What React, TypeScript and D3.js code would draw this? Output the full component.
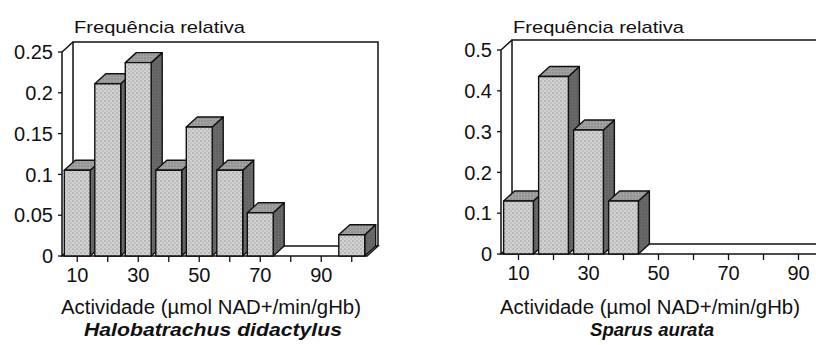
import * as d3 from "d3";

// bin centres (µmol NAD+/min/gHb)
const bins = [10, 20, 30, 40, 50, 60, 70, 80, 90, 100];
const xTickLabels = [10, 30, 50, 70, 90];

// relative frequencies
const halobatrachusFreq = [0.105, 0.211, 0.237, 0.105, 0.158, 0.105, 0.053, 0, 0, 0.026];
const sparusFreq = [0.13, 0.435, 0.304, 0.13, 0, 0, 0, 0, 0, 0];

const halobatrachusTicks = [0, 0.05, 0.1, 0.15, 0.2, 0.25];
const sparusTicks = [0, 0.1, 0.2, 0.3, 0.4, 0.5];

const FONT = "'Liberation Sans', Arial, sans-serif";
const DX = 11;
const DY = 10;

type HistProps = {
  values: number[];
  yTicks: number[];
  yMax: number;
  left: number;
  right: number;
  top: number;
  base: number;
  species: string;
  speciesWidth: number;
};

function Histogram({ values, yTicks, yMax, left, right, top, base, species, speciesWidth }: HistProps) {
  const x = d3
    .scaleBand<number>()
    .domain(bins)
    .range([left, right])
    .paddingInner(0.15)
    .paddingOuter(0.075);
  const y = d3.scaleLinear().domain([0, yMax]).range([base, top]);
  const bw = x.bandwidth();
  // tick positions sit on band centres
  const band = (right - left) / bins.length;
  const tickX = (i: number) => left + band * (i + 0.5);

  const pts = (p: number[][]) => p.map((d) => d.join(",")).join(" ");

  return (
    <g>
      {/* floor */}
      <polygon
        points={pts([
          [left, base],
          [right, base],
          [right + DX, base - DY],
          [left + DX, base - DY],
        ])}
        fill="#fff"
        stroke="#111"
        strokeWidth={1.5}
      />
      {/* back wall */}
      <polyline
        points={pts([
          [left + DX, base - DY],
          [left + DX, y(yMax) - DY],
          [right + DX, y(yMax) - DY],
          [right + DX, base - DY],
        ])}
        fill="none"
        stroke="#111"
        strokeWidth={1.5}
      />
      {/* left wall edge / y axis */}
      <polyline
        points={pts([
          [left, base],
          [left, y(yMax)],
          [left + DX, y(yMax) - DY],
        ])}
        fill="none"
        stroke="#111"
        strokeWidth={1.5}
      />

      {/* bars */}
      {values.map((v, i) => {
        if (v <= 0) return null;
        const x0 = x(bins[i]) ?? 0;
        const x1 = x0 + bw;
        const yv = y(v);
        return (
          <g key={i} stroke="#111" strokeWidth={1.4} strokeLinejoin="round">
            <polygon
              points={pts([
                [x1, base],
                [x1, yv],
                [x1 + DX, yv - DY],
                [x1 + DX, base - DY],
              ])}
              fill="url(#sidePat)"
            />
            <polygon
              points={pts([
                [x0, yv],
                [x1, yv],
                [x1 + DX, yv - DY],
                [x0 + DX, yv - DY],
              ])}
              fill="url(#topPat)"
            />
            <rect x={x0} y={yv} width={bw} height={base - yv} fill="url(#frontPat)" />
          </g>
        );
      })}

      {/* y ticks */}
      {yTicks.map((t) => (
        <g key={t}>
          <line x1={left - 4} x2={left} y1={y(t)} y2={y(t)} stroke="#111" strokeWidth={1.3} />
          <text
            x={left - 9}
            y={y(t)}
            dy="0.36em"
            textAnchor="end"
            fontSize={20}
            fontFamily={FONT}
            fill="#111"
          >
            {String(t)}
          </text>
        </g>
      ))}

      {/* x ticks */}
      {bins.map((b, i) => (
        <line
          key={b}
          x1={tickX(i)}
          x2={tickX(i)}
          y1={base}
          y2={base + 6}
          stroke="#111"
          strokeWidth={1.3}
        />
      ))}
      {xTickLabels.map((l) => (
        <text
          key={l}
          x={tickX(bins.indexOf(l))}
          y={base + 26}
          textAnchor="middle"
          fontSize={20}
          fontFamily={FONT}
          fill="#111"
        >
          {l}
        </text>
      ))}

      <text
        x={left + 12}
        y={33}
        fontSize={17}
        fontFamily={FONT}
        fill="#111"
        textLength={171}
        lengthAdjust="spacingAndGlyphs"
      >
        Frequência relativa
      </text>
      <text
        x={left + 149}
        y={314}
        textAnchor="middle"
        fontSize={20}
        fontFamily={FONT}
        fill="#111"
        textLength={300}
        lengthAdjust="spacingAndGlyphs"
      >
        Actividade (µmol NAD+/min/gHb)
      </text>
      <text
        x={left + 151}
        y={336}
        textAnchor="middle"
        fontSize={19}
        fontWeight="bold"
        fontStyle="italic"
        fontFamily={FONT}
        fill="#111"
        textLength={speciesWidth}
        lengthAdjust="spacingAndGlyphs"
      >
        {species}
      </text>
    </g>
  );
}

export default function App() {
  return (
    <div style={{ position: "absolute", left: 0, top: 0 }}>
      <svg width={816} height={345} style={{ display: "block", background: "#fff" }}>
        <defs>
          <pattern id="frontPat" width={4} height={4} patternUnits="userSpaceOnUse">
            <rect width={4} height={4} fill="#d2d2d2" />
            <circle cx={1} cy={1} r={0.8} fill="#949494" />
            <circle cx={3} cy={3} r={0.8} fill="#acacac" />
          </pattern>
          <pattern id="topPat" width={3} height={3} patternUnits="userSpaceOnUse">
            <rect width={3} height={3} fill="#a2a2a2" />
            <circle cx={1} cy={1} r={0.7} fill="#767676" />
          </pattern>
          <pattern id="sidePat" width={3} height={3} patternUnits="userSpaceOnUse">
            <rect width={3} height={3} fill="#6a6a6a" />
            <circle cx={1} cy={1} r={0.7} fill="#505050" />
          </pattern>
        </defs>
        <Histogram
          values={halobatrachusFreq}
          yTicks={halobatrachusTicks}
          yMax={0.25}
          left={62}
          right={367}
          top={52}
          base={256}
          species="Halobatrachus didactylus"
          speciesWidth={258}
        />
        <Histogram
          values={sparusFreq}
          yTicks={sparusTicks}
          yMax={0.5}
          left={501}
          right={851}
          top={50}
          base={254}
          species="Sparus aurata"
          speciesWidth={124}
        />
      </svg>
    </div>
  );
}
